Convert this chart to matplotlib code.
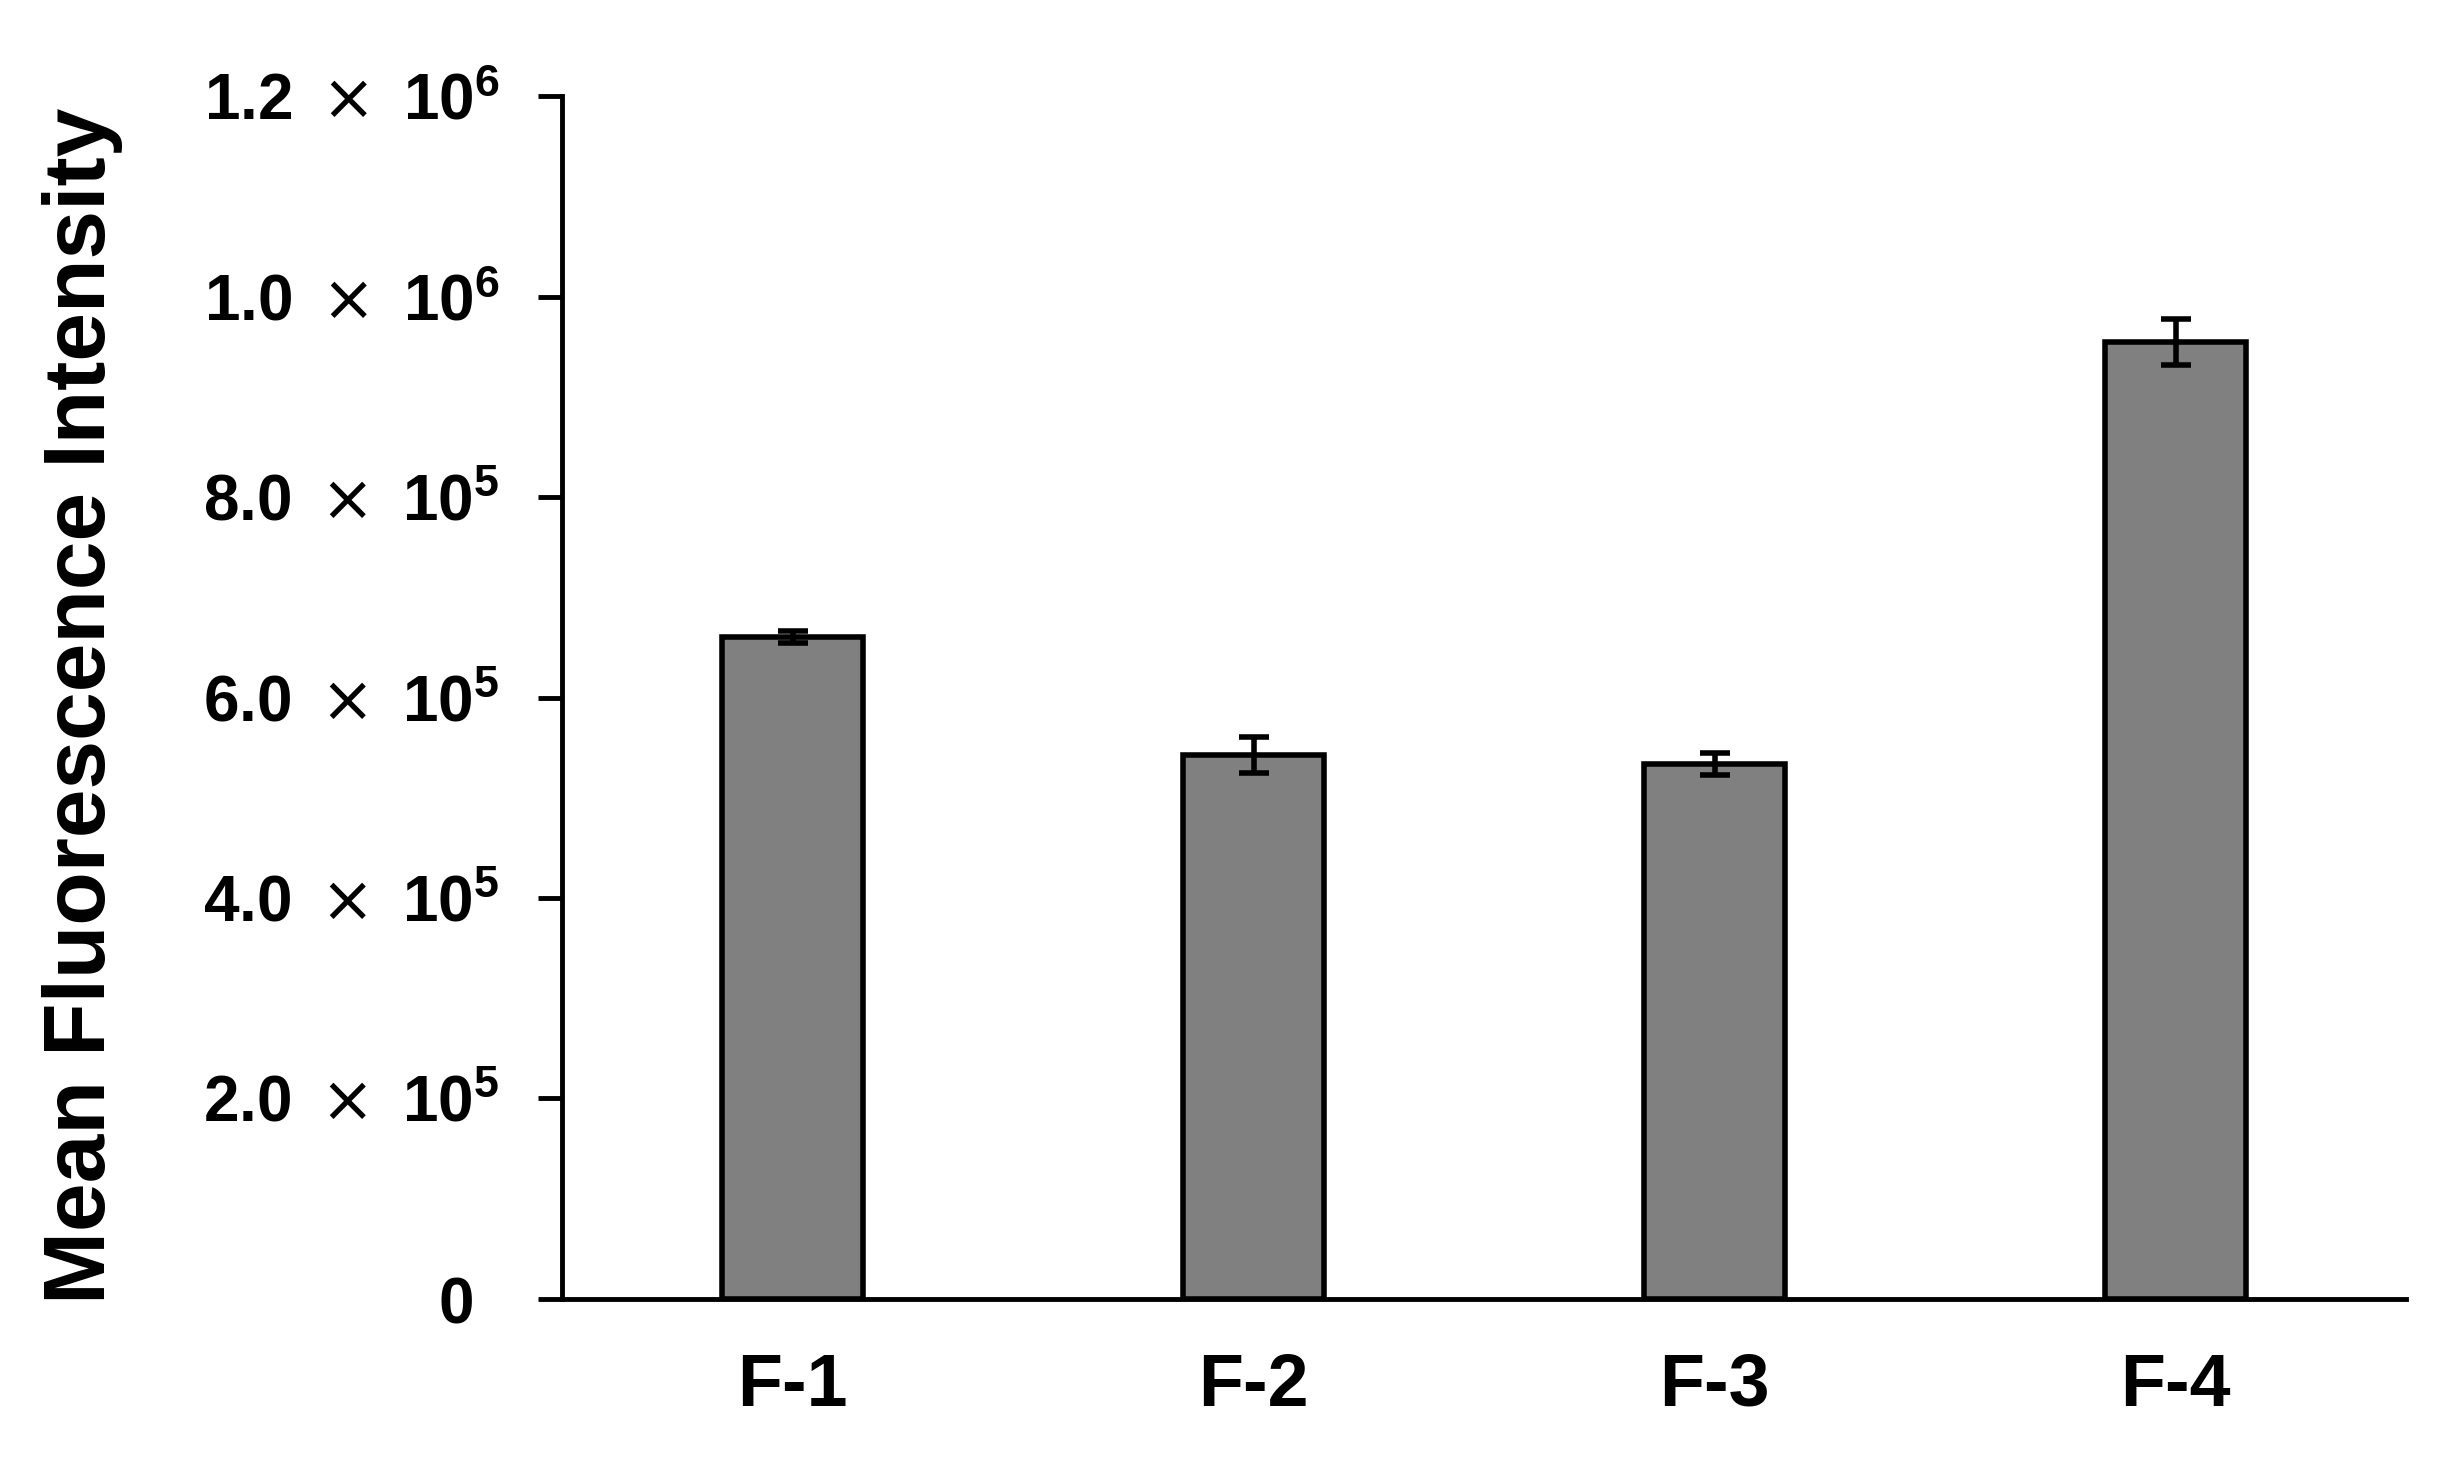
import numpy as np
import matplotlib
matplotlib.use('Agg')
import matplotlib.pyplot as plt
from matplotlib.transforms import ScaledTranslation

# data
samples = ['F-1', 'F-2', 'F-3', 'F-4']
mfi = [6.60e5, 5.43e5, 5.34e5, 9.55e5]
mfi_err = [6.0e3, 1.8e4, 1.1e4, 2.3e4]
yticks = [0, 2.0e5, 4.0e5, 6.0e5, 8.0e5, 1.0e6, 1.2e6]
ytick_labels = [r'$\mathbf{0}$',
                r'$\mathbf{2.0}\ \times\ \mathbf{10^{5}}$',
                r'$\mathbf{4.0}\ \times\ \mathbf{10^{5}}$',
                r'$\mathbf{6.0}\ \times\ \mathbf{10^{5}}$',
                r'$\mathbf{8.0}\ \times\ \mathbf{10^{5}}$',
                r'$\mathbf{1.0}\ \times\ \mathbf{10^{6}}$',
                r'$\mathbf{1.2}\ \times\ \mathbf{10^{6}}$']


def main():
    plt.rcParams['font.family'] = ['Liberation Sans', 'DejaVu Sans']
    plt.rcParams['mathtext.fontset'] = 'custom'
    plt.rcParams['mathtext.rm'] = 'DejaVu Sans'
    plt.rcParams['mathtext.it'] = 'Liberation Sans'
    plt.rcParams['mathtext.bf'] = 'Liberation Sans:bold'

    fig = plt.figure(figsize=(24.5, 14.62), dpi=100)
    ax = fig.add_axes([0.2294, 0.1115, 0.7527, 0.8228])

    x = np.arange(len(samples))
    ax.bar(x, mfi, width=0.305, color='#808080', edgecolor='black', linewidth=4)
    ax.errorbar(x, mfi, yerr=mfi_err, fmt='none', ecolor='black',
                elinewidth=4, capsize=11, capthick=4)

    ax.set_xlim(-0.5, 3.5)
    ax.set_ylim(0, 1.2e6)
    ax.set_yticks(yticks)
    ax.set_yticklabels(ytick_labels)
    ax.set_xticks(x)
    ax.set_xticklabels(samples, fontsize=53, fontweight='bold')
    ax.tick_params(axis='y', length=17, width=3.5, pad=28, labelsize=46)
    ax.tick_params(axis='x', length=0, pad=38)

    # the "0" label sits a bit left of the others in the original
    zero = ax.get_yticklabels()[0]
    zero.set_transform(zero.get_transform() +
                       ScaledTranslation(-0.27, 0, fig.dpi_scale_trans))

    for s in ['top', 'right']:
        ax.spines[s].set_visible(False)
    ax.spines['left'].set_linewidth(3.5)
    ax.spines['bottom'].set_linewidth(3.5)

    fig.text(0.0335, 0.517, 'Mean Fluorescence Intensity', rotation=90,
             ha='center', va='center', fontsize=63, fontweight='bold')

    fig.savefig('out.png', dpi=100)


if __name__ == "__main__":
    main()
